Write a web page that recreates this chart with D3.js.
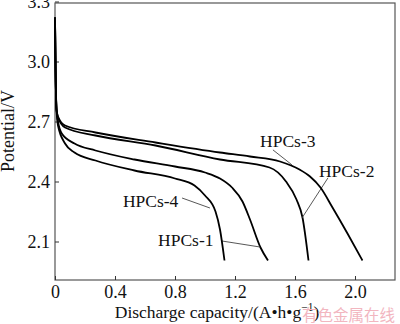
<!DOCTYPE html>
<html>
<head>
<meta charset="utf-8">
<script src="https://cdn.jsdelivr.net/npm/d3@7/dist/d3.min.js"></script>
<style>
  html, body { margin: 0; padding: 0; background: #fff; }
  svg { display: block; }
</style>
</head>
<body>
<svg id="chart" width="400" height="324"></svg>
<script>
// Discharge curves (capacity in A·h·g⁻¹, potential in V)
const cap1 = [0, 0.004, 0.01, 0.02, 0.045, 0.13, 0.27, 0.53, 0.8, 1.0, 1.1, 1.18, 1.25, 1.3, 1.37, 1.42];
const pot1 = [3.22, 2.95, 2.76, 2.70, 2.64, 2.59, 2.555, 2.51, 2.475, 2.445, 2.415, 2.37, 2.30, 2.21, 2.07, 2.005];

const cap2 = [0, 0.004, 0.01, 0.02, 0.067, 0.27, 0.67, 1.1, 1.43, 1.54, 1.61, 1.65, 1.69];
const pot2 = [3.22, 2.95, 2.76, 2.72, 2.67, 2.63, 2.58, 2.51, 2.47, 2.40, 2.31, 2.22, 2.005];

const cap3 = [0, 0.004, 0.01, 0.02, 0.067, 0.27, 0.67, 1.1, 1.3, 1.5, 1.63, 1.7, 1.77, 1.85, 1.95, 2.05];
const pot3 = [3.22, 2.95, 2.76, 2.725, 2.68, 2.645, 2.595, 2.545, 2.525, 2.50, 2.46, 2.425, 2.37, 2.27, 2.14, 2.005];

const cap4 = [0, 0.004, 0.01, 0.02, 0.067, 0.13, 0.27, 0.53, 0.8, 0.93, 1.0, 1.07, 1.1, 1.13];
const pot4 = [3.22, 2.95, 2.76, 2.68, 2.59, 2.545, 2.505, 2.455, 2.415, 2.38, 2.33, 2.25, 2.16, 2.005];

const seriesNames = ["HPCs-1", "HPCs-2", "HPCs-3", "HPCs-4"];

// Label text anchors and leader lines, in data units
const labelPos = [[0.687, 2.0775], [1.76, 2.422], [1.367, 2.572], [0.453, 2.2725]];
const leaderLines = [
  [[1.113, 2.1025], [1.367, 2.0725]],
  [[1.82, 2.418], [1.647, 2.218]],
  [[1.453, 2.558], [1.58, 2.483]],
  [[0.847, 2.3175], [1.033, 2.2675]]
];

const xTicks = [0, 0.4, 0.8, 1.2, 1.6, 2.0];
const xTickLabels = ["0", "0.4", "0.8", "1.2", "1.6", "2.0"];
const yTicks = [2.1, 2.4, 2.7, 3.0, 3.3];
const yTickLabels = ["2.1", "2.4", "2.7", "3.0", "3.3"];

const SERIF = "'Liberation Serif', 'Times New Roman', 'DejaVu Serif', serif";

const svg = d3.select("#chart");
const plotLeft = 55, plotRight = 395, plotTop = 3, plotBottom = 280;

const x = d3.scaleLinear().domain([0, 2.2667]).range([plotLeft, plotRight]);
const y = d3.scaleLinear().domain([1.9075, 3.2925]).range([plotBottom, plotTop]);

// plot frame
svg.append("rect")
  .attr("x", plotLeft).attr("y", plotTop)
  .attr("width", plotRight - plotLeft).attr("height", plotBottom - plotTop)
  .attr("fill", "none").attr("stroke", "#555").attr("stroke-width", 1.2);

// axes with inward ticks
const xAxis = d3.axisBottom(x).tickValues(xTicks)
  .tickFormat((d, i) => xTickLabels[i]).tickSizeInner(-4).tickSizeOuter(0).tickPadding(5);
const gx = svg.append("g").attr("transform", `translate(0,${plotBottom})`).call(xAxis)
  .attr("font-family", SERIF).attr("font-size", 18);
gx.select(".domain").remove();
gx.selectAll("line").attr("stroke", "#333");
gx.selectAll("text").attr("fill", "#111");

const yAxis = d3.axisLeft(y).tickValues(yTicks)
  .tickFormat((d, i) => yTickLabels[i]).tickSizeInner(-4).tickSizeOuter(0).tickPadding(5);
const gy = svg.append("g").attr("transform", `translate(${plotLeft},0)`).call(yAxis)
  .attr("font-family", SERIF).attr("font-size", 18);
gy.select(".domain").remove();
gy.selectAll("line").attr("stroke", "#333");
gy.selectAll("text").attr("fill", "#111");

// curves
const caps = [cap1, cap2, cap3, cap4];
const pots = [pot1, pot2, pot3, pot4];
const line = d3.line().x(d => x(d[0])).y(d => y(d[1])).curve(d3.curveMonotoneX);

seriesNames.forEach((name, i) => {
  const pts = caps[i].map((c, j) => [c, pots[i][j]]);
  svg.append("path").datum(pts)
    .attr("d", line)
    .attr("fill", "none").attr("stroke", "#000").attr("stroke-width", 1.8)
    .attr("stroke-linejoin", "round");

  const ld = leaderLines[i];
  svg.append("line")
    .attr("x1", x(ld[0][0])).attr("y1", y(ld[0][1]))
    .attr("x2", x(ld[1][0])).attr("y2", y(ld[1][1]))
    .attr("stroke", "#444").attr("stroke-width", 0.9);

  svg.append("text")
    .attr("x", x(labelPos[i][0])).attr("y", y(labelPos[i][1]))
    .attr("font-family", SERIF).attr("font-size", 17.5).attr("fill", "#111")
    .text(name);
});

// axis titles
const xt = svg.append("text").attr("x", 217).attr("y", 318)
  .attr("text-anchor", "middle").attr("font-family", SERIF)
  .attr("font-size", 17.5).attr("fill", "#111");
xt.append("tspan").text("Discharge capacity/(A\u2022h\u2022g");
xt.append("tspan").attr("font-size", 11.5).attr("dy", -7).text("\u22121");
xt.append("tspan").attr("dy", 7).text(")");

svg.append("text")
  .attr("transform", "translate(14,131) rotate(-90)")
  .attr("text-anchor", "middle").attr("font-family", SERIF)
  .attr("font-size", 18).attr("fill", "#111")
  .text("Potential/V");

// watermark
svg.append("text").attr("x", 302).attr("y", 321)
  .attr("font-size", 15.5)
  .attr("font-family", "'Noto Sans CJK SC', sans-serif")
  .attr("fill", "#f2b6bf")
  .text("有色金属在线");
</script>
</body>
</html>
